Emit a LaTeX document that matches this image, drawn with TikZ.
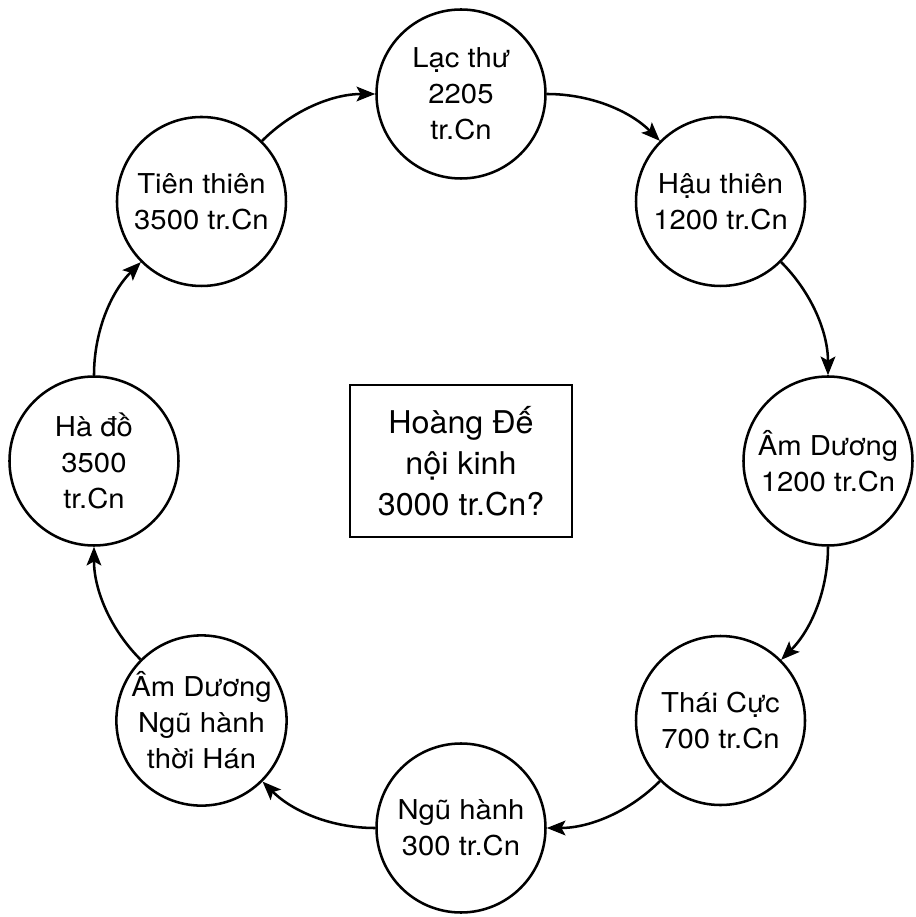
\documentclass[tikz,border=0pt]{standalone}
\usepackage{fontspec}
\setmainfont{TeX Gyre Heros}
\newfontfamily\ringfont[FakeStretch=1.07]{TeX Gyre Heros}
\newfontfamily\boxfont[FakeStretch=1.03]{TeX Gyre Heros}
\usetikzlibrary{arrows.meta}
\tikzset{every picture/.style={line width=1.9pt}}
\tikzset{
period/.style={circle, draw, minimum size=126.75pt, inner sep=0pt, align=center, font=\ringfont\fontsize{20.5}{27}\selectfont},
centrebox/.style={rectangle, draw, minimum width=166.5pt, minimum height=114pt, inner sep=0pt, align=center, font=\boxfont\fontsize{23.5}{30.75}\selectfont},
flow/.style={-{Stealth[length=14pt,width=11pt,inset=3pt]}, bend left=22.5, looseness=0.9}
}

\begin{document}
\begin{tikzpicture}[x=0.75pt,y=0.75pt]
%set diagram frame, centre of the ring at origin
\useasboundingbox (-461,-456) rectangle (454,461);

% Ring of circles
\node[period] (lacthu)   at (90:367)  {Lạc thư\\2205\\tr.Cn};
\node[period] (hauthien) at (45:367)  {Hậu thiên\\1200 tr.Cn};
\node[period] (amduong)  at (0:367)   {Âm Dương\\1200 tr.Cn};
\node[period] (thaicuc)  at (-45:367) {Thái Cực\\700 tr.Cn};
\node[period] (nguhanh)  at (-90:367) {Ngũ hành\\300 tr.Cn};
\node[period] (thoihan)  at (-135:367) {Âm Dương\\Ngũ hành\\thời Hán};
\node[period] (hado)     at (180:367) {Hà đồ\\3500\\tr.Cn};
\node[period] (tienthien) at (135:367) {Tiên thiên\\3500 tr.Cn};

% Centre box
\node[centrebox] (noikinh) at (0,0) {Hoàng Đế\\nội kinh\\3000 tr.Cn?};

% Arrows along the ring
\draw[flow] (lacthu) to (hauthien);
\draw[flow] (hauthien) to (amduong);
\draw[flow] (amduong) to (thaicuc);
\draw[flow] (thaicuc) to (nguhanh);
\draw[flow] (nguhanh) to (thoihan);
\draw[flow] (thoihan) to (hado);
\draw[flow] (hado) to (tienthien);
\draw[flow] (tienthien) to (lacthu);

\end{tikzpicture}
\end{document}
